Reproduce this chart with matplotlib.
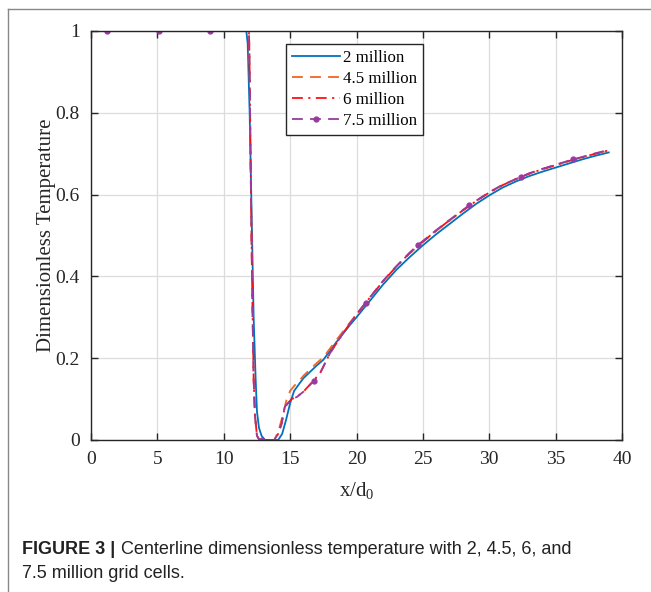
import matplotlib.pyplot as plt
import numpy as np
from matplotlib.lines import Line2D

# --- centerline dimensionless temperature, four grid sizes ---
x_2m = [0, 11.7, 11.8, 11.95, 12.1, 12.25, 12.4, 12.5, 12.65, 12.85, 13.1, 14.1, 14.4, 14.7,
        15.0, 15.3, 15.7, 16.0, 17.0, 17.5, 18.5, 19.5, 20, 21, 22, 23, 24, 25, 26, 27,
        28, 29, 30, 31, 32, 33, 34, 35, 36, 37, 38, 39]
T_2m = [1, 1, 0.97, 0.8, 0.55, 0.3, 0.15, 0.07, 0.03, 0.01, 0.0, 0.0, 0.015, 0.05,
        0.09, 0.12, 0.138, 0.151, 0.182, 0.196, 0.24, 0.281, 0.30, 0.34, 0.38, 0.416, 0.447, 0.476, 0.503, 0.528,
        0.553, 0.577, 0.598, 0.617, 0.632, 0.645, 0.656, 0.666, 0.676, 0.686, 0.695, 0.703]

x_45m = [0, 11.9, 11.95, 12.05, 12.15, 12.25, 12.35, 12.5, 12.7, 13.8, 14.1, 14.4, 14.7, 15.0,
         15.3, 15.7, 16.0, 17.0, 17.5, 18.5, 19.5, 20, 21, 22, 23, 24, 25, 26, 27,
         28, 29, 30, 31, 32, 33, 34, 35, 36, 37, 38, 39]
T_45m = [1, 1, 0.9, 0.6, 0.35, 0.15, 0.06, 0.01, 0.0, 0.0, 0.02, 0.055, 0.095, 0.12,
         0.132, 0.145, 0.157, 0.188, 0.202, 0.245, 0.287, 0.307, 0.348, 0.388, 0.424, 0.456, 0.484, 0.511, 0.536,
         0.561, 0.584, 0.605, 0.623, 0.638, 0.651, 0.662, 0.672, 0.682, 0.691, 0.700, 0.708]

x_6m = [0, 11.9, 11.95, 12.05, 12.15, 12.25, 12.35, 12.5, 12.7, 13.8, 14.1, 14.36, 14.6, 15.1,
        15.5, 16.0, 16.7, 17.25, 18.0, 19.0, 20, 21, 22, 23, 24, 25, 26, 27,
        28, 29, 30, 31, 32, 33, 34, 35, 36, 37, 38, 39]
T_6m = [1, 1, 0.9, 0.6, 0.35, 0.15, 0.06, 0.01, 0.0, 0.0, 0.015, 0.04, 0.081, 0.10,
        0.105, 0.118, 0.143, 0.163, 0.212, 0.262, 0.307, 0.348, 0.388, 0.424, 0.457, 0.485, 0.512, 0.537,
        0.561, 0.584, 0.605, 0.623, 0.638, 0.651, 0.662, 0.672, 0.682, 0.691, 0.700, 0.708]

x_75m = [0, 1.2, 5.1, 9.0, 11.9, 11.95, 12.05, 12.15, 12.25, 12.35, 12.5, 12.7, 12.9, 13.8, 14.1, 14.36, 14.6, 15.1,
         15.5, 16.0, 16.8, 17.25, 18.0, 19.0, 20, 20.7, 22, 23, 24, 24.6, 26, 27,
         28, 28.5, 30, 31, 32.4, 33, 34, 35, 36.3, 37, 38, 39]
T_75m = [1, 1, 1, 1, 1, 0.9, 0.6, 0.35, 0.15, 0.06, 0.01, 0.0, 0.0, 0.0, 0.015, 0.04, 0.081, 0.10,
         0.105, 0.118, 0.145, 0.163, 0.212, 0.262, 0.307, 0.336, 0.389, 0.425, 0.458, 0.476, 0.513, 0.538,
         0.562, 0.574, 0.606, 0.624, 0.643, 0.652, 0.663, 0.673, 0.686, 0.692, 0.701, 0.709]
marker_x = [1.2, 5.1, 9.0, 12.9, 16.8, 20.7, 24.6, 28.5, 32.4, 36.3]

labels = ['2 million', '4.5 million', '6 million', '7.5 million']
xticks = [0, 5, 10, 15, 20, 25, 30, 35, 40]
yticks = [0, 0.2, 0.4, 0.6, 0.8, 1]

serif = ['Liberation Serif', 'DejaVu Serif']

fig = plt.figure(figsize=(6.51, 5.92), dpi=100)
ax = fig.add_axes([0.1398, 0.2568, 0.8157, 0.6909])

ax.plot(x_2m, T_2m, '-', color='#0072BD', lw=1.3, label=labels[0])
ax.plot(x_45m, T_45m, '--', color='#F26522', lw=1.3, dashes=(6, 4), label=labels[1])
ax.plot(x_6m, T_6m, '-.', color='#FF1010', lw=1.3, dashes=(6, 3, 1.2, 3), label=labels[2])
mk = [i for i, v in enumerate(x_75m) if v in marker_x]
ax.plot(x_75m, T_75m, '--', color='#9B3A9E', lw=1.3, dashes=(6, 4), marker='o', ms=3.5,
        markevery=mk, label=labels[3])

ax.set_xlim(0, 40)
ax.set_ylim(0, 1)
ax.set_xticks(xticks)
ax.set_yticks(yticks)
ax.set_yticklabels(['0', '0.2', '0.4', '0.6', '0.8', '1'])
ax.grid(True, color='#dcdcdc', lw=0.9)
ax.set_axisbelow(True)
ax.tick_params(direction='in', top=True, right=True, length=5, width=1, colors='#262626',
               labelsize=14, labelcolor='#262626')
ax.tick_params(axis='x', pad=8)
ax.tick_params(axis='y', pad=8)
for lab in ax.get_xticklabels() + ax.get_yticklabels():
    lab.set_family(serif)
for s in ax.spines.values():
    s.set_color('#262626')
    s.set_linewidth(1.0)

ax.set_xlabel(r'x/d$_{\mathregular{0}}$', fontsize=15, family=serif, color='#262626', labelpad=9)
ax.set_ylabel('Dimensionless Temperature', fontsize=15, family=serif, color='#262626', labelpad=0)

leg = ax.legend(loc='upper left', bbox_to_anchor=(0.368, 0.968), prop={'family': serif, 'size': 12.2},
                frameon=True, fancybox=False, edgecolor='#262626', framealpha=1,
                handlelength=2.8, handletextpad=0.2, borderpad=0.35, labelspacing=0.3, borderaxespad=0)
leg.get_frame().set_linewidth(1.0)

# caption and the card border
cap_y1 = 1 - 549 / 592
cap_y2 = 1 - 573 / 592
t0 = fig.text(22 / 651, cap_y1, 'FIGURE 3 |', fontsize=13, weight='bold', family='Liberation Sans',
              va='center', ha='left', color='#222222')
fig.canvas.draw()
bb = t0.get_window_extent()
fig.text((bb.x1 + 6) / 651, cap_y1, 'Centerline dimensionless temperature with 2, 4.5, 6, and',
         fontsize=13, family='Liberation Sans', va='center', ha='left', color='#222222')
fig.text(22 / 651, cap_y2, '7.5 million grid cells.', fontsize=13, family='Liberation Sans',
         va='center', ha='left', color='#222222')
fig.add_artist(Line2D([8 / 651, 8 / 651], [0, 1 - 9 / 592], color='#888888', lw=1))
fig.add_artist(Line2D([8 / 651, 1], [1 - 9 / 592, 1 - 9 / 592], color='#888888', lw=1))

fig.savefig('out.png', dpi=100)
